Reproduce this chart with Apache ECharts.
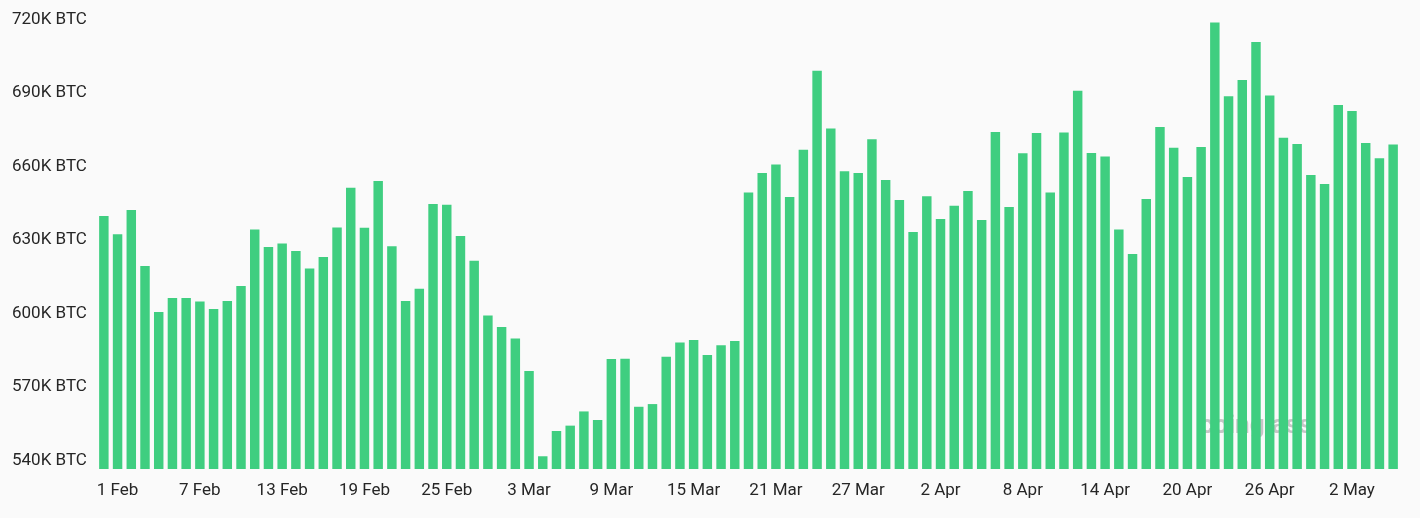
<!DOCTYPE html>
<html>
<head>
<meta charset="utf-8">
<script src="https://cdn.jsdelivr.net/npm/echarts@6/dist/echarts.min.js"></script>
<style>
html,body{margin:0;padding:0;background:#fafafa;}
#chart{width:1420px;height:518px;}
</style>
</head>
<body>
<div id="chart"></div>
<script>
const categories = [
"31 Jan",
"1 Feb","2 Feb","3 Feb","4 Feb","5 Feb","6 Feb","7 Feb","8 Feb","9 Feb","10 Feb",
"11 Feb","12 Feb","13 Feb","14 Feb","15 Feb","16 Feb","17 Feb","18 Feb","19 Feb","20 Feb",
"21 Feb","22 Feb","23 Feb","24 Feb","25 Feb","26 Feb","27 Feb","28 Feb",
"1 Mar","2 Mar","3 Mar","4 Mar","5 Mar","6 Mar","7 Mar","8 Mar","9 Mar","10 Mar",
"11 Mar","12 Mar","13 Mar","14 Mar","15 Mar","16 Mar","17 Mar","18 Mar","19 Mar","20 Mar",
"21 Mar","22 Mar","23 Mar","24 Mar","25 Mar","26 Mar","27 Mar","28 Mar","29 Mar","30 Mar","31 Mar",
"1 Apr","2 Apr","3 Apr","4 Apr","5 Apr","6 Apr","7 Apr","8 Apr","9 Apr","10 Apr",
"11 Apr","12 Apr","13 Apr","14 Apr","15 Apr","16 Apr","17 Apr","18 Apr","19 Apr","20 Apr",
"21 Apr","22 Apr","23 Apr","24 Apr","25 Apr","26 Apr","27 Apr","28 Apr","29 Apr","30 Apr",
"1 May","2 May","3 May","4 May","5 May"
];

// Balance in thousands of BTC (K BTC)
const balanceK = [
643.3, 635.8, 645.7, 622.9, 604.1, 609.8, 609.8, 608.4, 605.3, 608.6,
614.7, 637.8, 630.6, 632.0, 629.0, 621.8, 626.5, 638.6, 654.8, 638.5,
657.6, 630.9, 608.6, 613.6, 648.2, 647.9, 635.1, 625.0, 602.7, 598.0,
593.3, 580.0, 545.2, 555.5, 557.7, 563.5, 560.0, 584.9, 585.0, 565.4,
566.5, 585.8, 591.6, 592.7, 586.5, 590.5, 592.2, 652.9, 660.8, 664.3,
651.0, 670.3, 702.6, 679.0, 661.5, 660.8, 674.6, 658.0, 649.8, 636.7,
651.3, 642.0, 647.5, 653.5, 641.6, 677.6, 646.9, 668.9, 677.1, 652.9,
677.3, 694.4, 669.0, 667.6, 637.8, 627.8, 650.2, 679.6, 671.1, 659.2,
671.4, 722.2, 692.1, 698.8, 714.3, 692.5, 675.2, 672.7, 660.0, 656.3,
688.6, 686.1, 673.1, 666.8, 672.5
];

const yMin = 540, yMax = 726, yStep = 30, yLastLabel = 720;

const chart = echarts.init(document.getElementById('chart'), null, {renderer: 'canvas'});
chart.setOption({
  backgroundColor: '#fafafa',
  animation: false,
  textStyle: {fontFamily: 'Roboto, "Noto Sans", sans-serif'},
  // top chosen so that the 720K line sits at y≈28 (2.45 px per K)
  grid: {left: 97, right: 20, top: 13.3, bottom: 49, containLabel: false},
  xAxis: {
    type: 'category',
    data: categories,
    boundaryGap: true,
    axisLine: {show: false},
    axisTick: {show: false},
    splitLine: {show: false},
    axisLabel: {
      interval: function (i) { return i % 6 === 1; },
      color: '#262626',
      fontSize: 17,
      margin: 13,
      fontFamily: 'Roboto, "Noto Sans", sans-serif'
    }
  },
  yAxis: {
    type: 'value',
    min: yMin,
    max: yMax,
    interval: yStep,
    axisLine: {show: false},
    axisTick: {show: false},
    splitLine: {show: false},
    axisLabel: {
      align: 'left',
      verticalAlign: 'bottom',
      margin: 85,
      showMaxLabel: true,
      color: '#262626',
      fontSize: 17,
      fontFamily: 'Roboto, "Noto Sans", sans-serif',
      formatter: function (v) { return v > yLastLabel ? '' : v + 'K BTC'; }
    }
  },
  series: [{
    type: 'bar',
    data: balanceK,
    clip: true,
    barCategoryGap: '31%',
    itemStyle: {color: '#3fce80'}
  }],
  graphic: [{
    type: 'text',
    left: 1200,
    top: 413,
    silent: true,
    style: {
      text: 'coinglass',
      fill: 'rgba(175,175,175,0.7)',
      font: 'bold 26px Roboto, "Noto Sans", sans-serif'
    }
  }]
});
</script>
</body>
</html>
